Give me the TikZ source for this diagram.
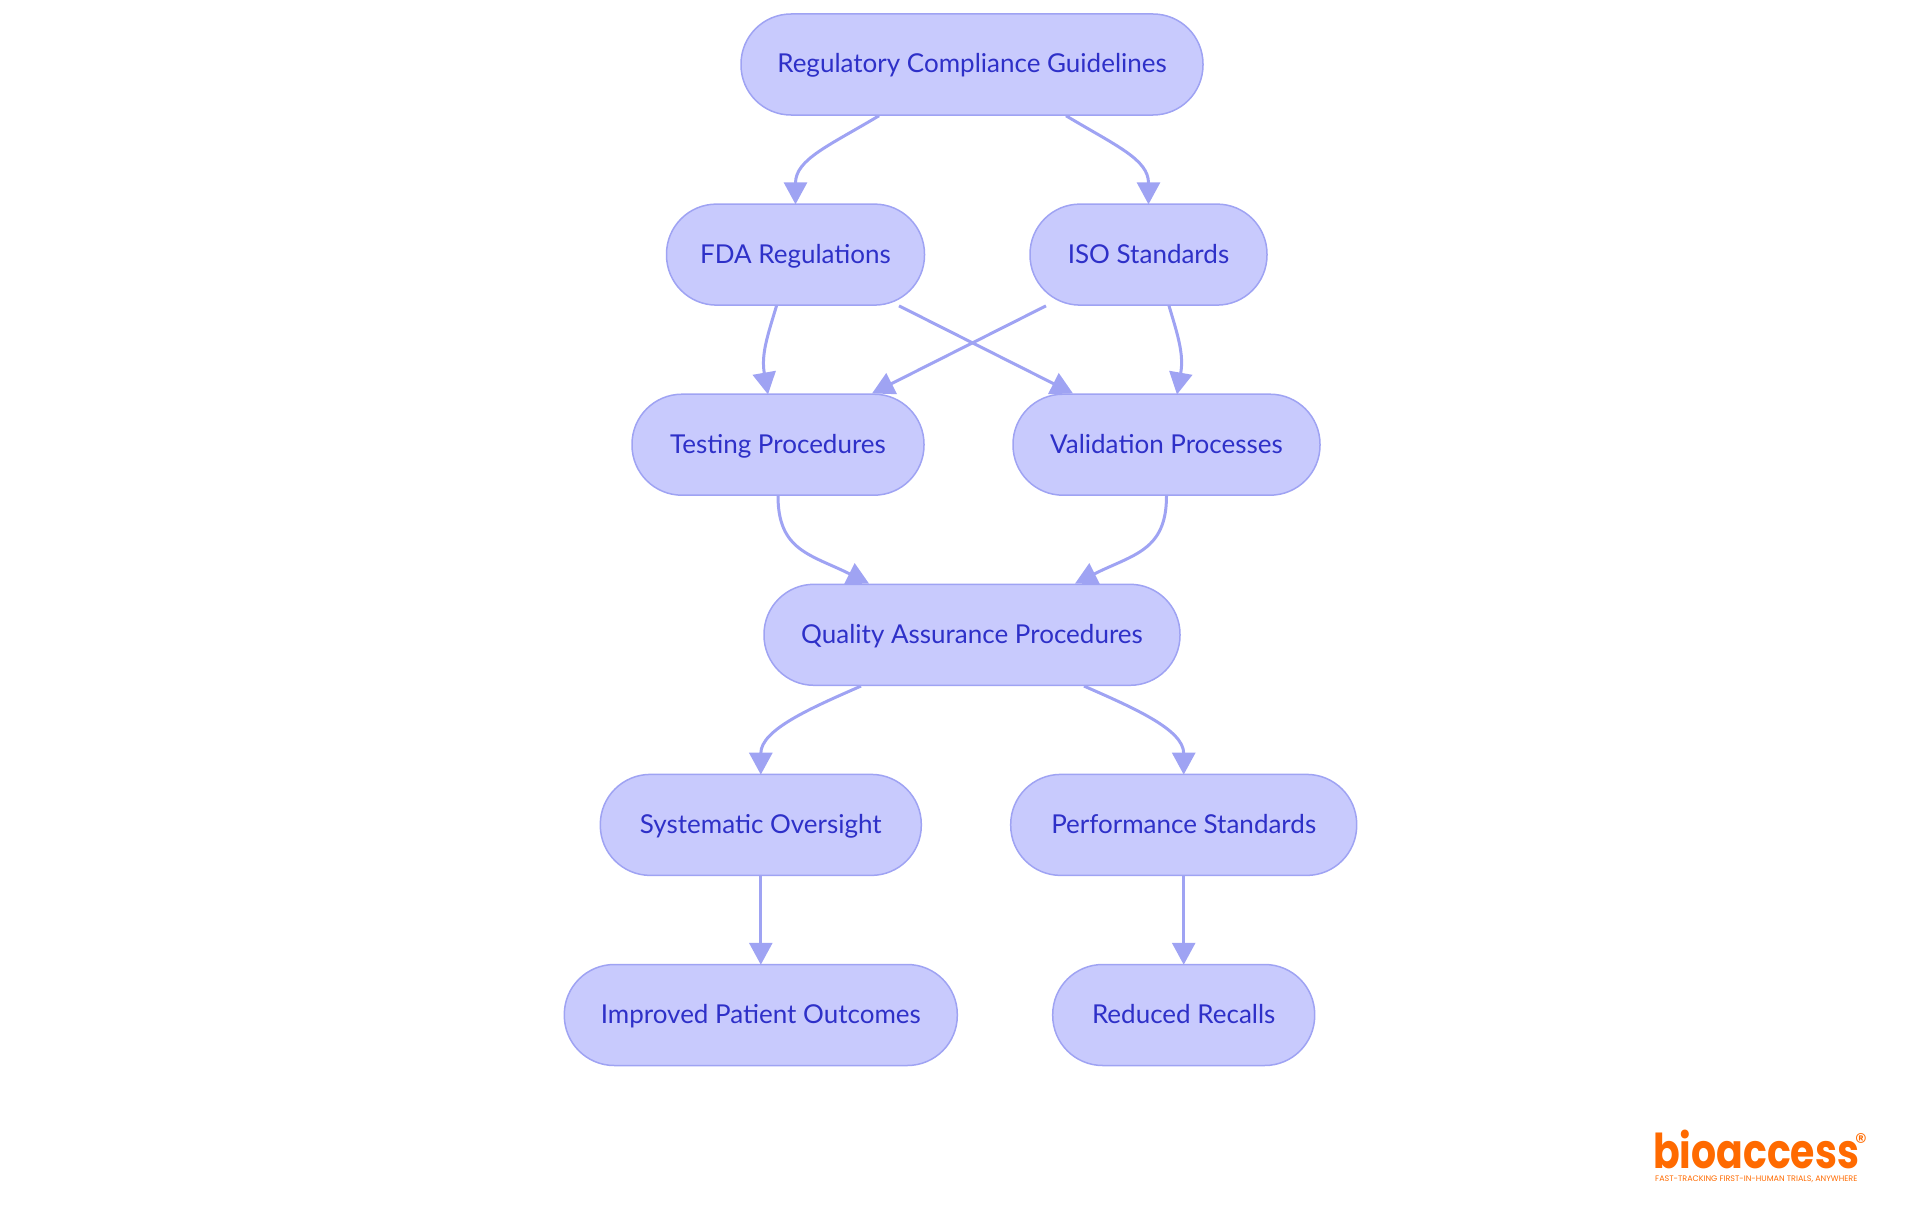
\documentclass[tikz,border=0pt]{standalone}
\usepackage{fontspec}
\setmainfont{Lato}
\newfontfamily\logofont[FakeStretch=0.82]{Poppins}
\newfontfamily\tagfont{Poppins}
\usetikzlibrary{arrows.meta,backgrounds}
\definecolor{nodefill}{RGB}{200,202,253}
\definecolor{nodeline}{RGB}{159,163,243}
\definecolor{nodetext}{RGB}{46,48,200}
\definecolor{logoorange}{RGB}{255,106,0}
\tikzset{
  box/.style={draw=nodeline,fill=nodefill,line width=1.5pt,rounded corners=50pt,minimum height=101pt,inner sep=0pt,text=nodetext,font=\fontsize{26}{30}\selectfont,text height=21pt,text depth=4pt},
  link/.style={draw=nodeline,line width=3pt,-{Triangle[width=23pt,length=22pt]}},
  logotext/.style={text=logoorange,inner sep=0pt}
}
\begin{document}
\begin{tikzpicture}[x=1pt,y=-1pt]
\useasboundingbox (0,0) rectangle (1920,1215);
\node[box,minimum width=462pt] (reg) at (972,64.5) {Regulatory Compliance Guidelines};
\node[box,minimum width=258pt] (fda) at (795.5,254.6) {FDA Regulations};
\node[box,minimum width=237pt] (iso) at (1148.5,254.6) {ISO Standards};
\node[box,minimum width=292pt] (test) at (778,444.7) {Testing Procedures};
\node[box,minimum width=307pt] (val) at (1166.5,444.7) {Validation Processes};
\node[box,minimum width=416pt] (qa) at (972,634.8) {Quality Assurance Procedures};
\node[box,minimum width=321pt] (sys) at (760.8,824.9) {Systematic Oversight};
\node[box,minimum width=346pt] (perf) at (1183.7,824.9) {Performance Standards};
\node[box,minimum width=393pt] (imp) at (760.8,1015) {Improved Patient Outcomes};
\node[box,minimum width=262pt] (red) at (1183.7,1015) {Reduced Recalls};
\begin{scope}[on background layer]
\draw[link] ([xshift=-93pt]reg.south) .. controls +(-50,30) and +(0,-45) .. ([yshift=-1pt]fda.north);
\draw[link] ([xshift=94pt]reg.south) .. controls +(50,30) and +(0,-45) .. ([yshift=-1pt]iso.north);
\draw[link] ([xshift=-19pt]fda.south) .. controls +(-9,30) and +(-7,-40) .. ([xshift=-10pt,yshift=-1pt]test.north);
\draw[link] ([xshift=-102.5pt]iso.south) -- ([xshift=94pt]test.north);
\draw[link] ([xshift=103.5pt]fda.south) -- ([xshift=-93.5pt]val.north);
\draw[link] ([xshift=20.5pt]iso.south) .. controls +(9,30) and +(7,-40) .. ([xshift=10.5pt,yshift=-1pt]val.north);
\draw[link] (test.south) .. controls +(0,55) and +(-58,-29) .. ([xshift=-103pt]qa.north);
\draw[link] (val.south) .. controls +(0,55) and +(58,-29) .. ([xshift=103pt]qa.north);
\draw[link] ([xshift=-111pt]qa.south) .. controls +(-50,22) and +(0,-45) .. ([yshift=-1pt]sys.north);
\draw[link] ([xshift=112pt]qa.south) .. controls +(50,22) and +(0,-45) .. ([yshift=-1pt]perf.north);
\draw[link] (sys.south) -- ([yshift=-1pt]imp.north);
\draw[link] (perf.south) -- ([yshift=-1pt]red.north);
\end{scope}
\node[logotext,anchor=base west,font=\logofont\bfseries\fontsize{48}{48}\selectfont] (logo) at (1653,1168) {bioaccess};
\node[logotext,font=\tagfont\fontsize{24}{24}\selectfont] (regmark) at (1861,1142) {®};
\node[logotext,anchor=west,font=\tagfont\fontsize{8}{8}\selectfont] (tag) at (1655,1179) {FAST-TRACKING FIRST-IN-HUMAN TRIALS, ANYWHERE};
\end{tikzpicture}
\end{document}
